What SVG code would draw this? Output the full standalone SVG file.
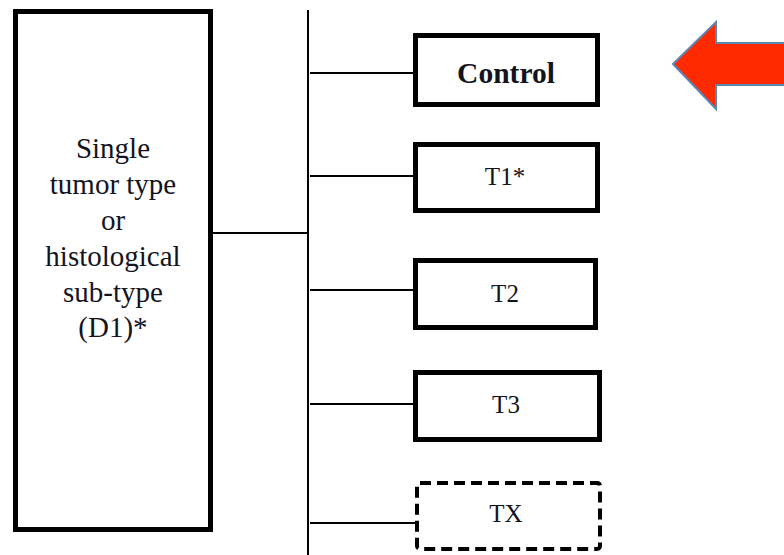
<svg xmlns="http://www.w3.org/2000/svg" width="784" height="555" viewBox="0 0 784 555">
  <style>
    .box { fill: #ffffff; stroke: #000000; stroke-width: 5; }
    .dash { fill: #ffffff; stroke: #000000; stroke-width: 4; stroke-dasharray: 11 6; }
    .wire { fill: none; stroke: #000000; stroke-width: 2; }
    .lbl { font-family: "Liberation Serif", "Times New Roman", serif; fill: #14141e; text-anchor: middle; }
    .big { font-size: 29px; }
    .small { font-size: 25px; }
    .bold { font-weight: bold; font-size: 29.5px; }
  </style>
  <rect width="784" height="555" fill="#ffffff"/>

  <g id="connectors">
    <line class="wire" x1="308" y1="10" x2="308" y2="555"/>
    <line class="wire" x1="213" y1="233" x2="308" y2="233"/>
    <line class="wire" x1="310" y1="73" x2="414" y2="73"/>
    <line class="wire" x1="310" y1="176" x2="414" y2="176"/>
    <line class="wire" x1="310" y1="290" x2="414" y2="290"/>
    <line class="wire" x1="310" y1="404" x2="414" y2="404"/>
    <line class="wire" x1="310" y1="523" x2="415" y2="523"/>
  </g>

  <g id="tumor-type">
    <rect class="box" x="15.5" y="11.5" width="195" height="518"/>
    <text class="lbl big" x="113" y="158">Single</text>
    <text class="lbl big" x="113" y="194">tumor type</text>
    <text class="lbl big" x="113" y="230">or</text>
    <text class="lbl big" x="113" y="266">histological</text>
    <text class="lbl big" x="113" y="301.5">sub-type</text>
    <text class="lbl big" x="113" y="337">(D1)*</text>
  </g>

  <g id="control">
    <rect class="box" x="415.5" y="35.5" width="182" height="69"/>
    <text class="lbl bold" x="506" y="83">Control</text>
  </g>

  <g id="t1">
    <rect class="box" x="415.5" y="144.5" width="182" height="66"/>
    <text class="lbl small" x="505" y="185">T1*</text>
  </g>

  <g id="t2">
    <rect class="box" x="415.5" y="260.5" width="180" height="67"/>
    <text class="lbl small" x="505" y="302">T2</text>
  </g>

  <g id="t3">
    <rect class="box" x="415.5" y="372.5" width="184" height="67"/>
    <text class="lbl small" x="506" y="413">T3</text>
  </g>

  <g id="tx">
    <rect class="dash" x="417" y="483" width="183" height="66" rx="3"/>
    <text class="lbl small" x="506" y="522">TX</text>
  </g>

  <g id="pointer">
    <polygon points="673,64 716,22 716,43 790,43 790,85 716,85 716,109"
             fill="#ff2a00" stroke="#5a86b4" stroke-width="2" stroke-linejoin="miter"/>
  </g>
</svg>
